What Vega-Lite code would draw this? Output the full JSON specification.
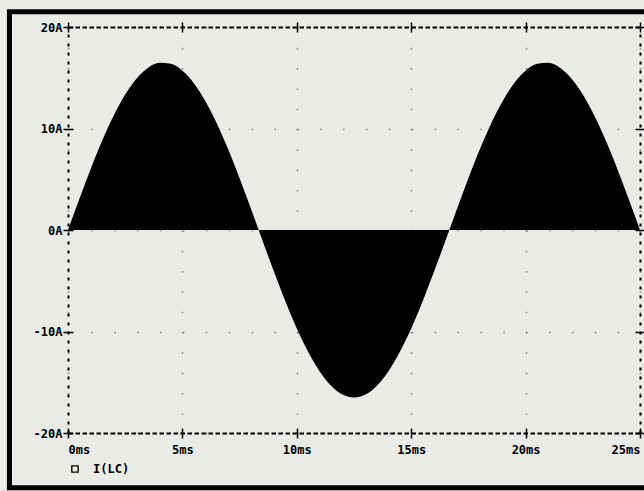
{
  "$schema": "https://vega.github.io/schema/vega-lite/v6.json",
  "width": 572,
  "height": 406,
  "autosize": {"type": "none"},
  "padding": {"left": 68, "top": 27, "right": 4, "bottom": 58},
  "background": "#e8ebe6",
  "config": {
    "view": {"stroke": null},
    "axis": {
      "labelFont": "DejaVu Sans Mono",
      "labelFontWeight": "bold",
      "labelFontSize": 12,
      "labelColor": "black",
      "domainColor": "black",
      "tickColor": "black",
      "title": null
    }
  },
  "datasets": {
    "wave": [
      {"t": 0, "i": 0, "s": "I(LC)"},
      {"t": 0.5, "i": 3.09, "s": "I(LC)"},
      {"t": 1, "i": 6.07, "s": "I(LC)"},
      {"t": 1.5, "i": 8.84, "s": "I(LC)"},
      {"t": 2, "i": 11.29, "s": "I(LC)"},
      {"t": 2.5, "i": 13.35, "s": "I(LC)"},
      {"t": 3, "i": 14.93, "s": "I(LC)"},
      {"t": 3.5, "i": 15.98, "s": "I(LC)"},
      {"t": 4, "i": 16.47, "s": "I(LC)"},
      {"t": 4.5, "i": 16.37, "s": "I(LC)"},
      {"t": 5, "i": 15.69, "s": "I(LC)"},
      {"t": 5.5, "i": 14.46, "s": "I(LC)"},
      {"t": 6, "i": 12.71, "s": "I(LC)"},
      {"t": 6.5, "i": 10.52, "s": "I(LC)"},
      {"t": 7, "i": 7.95, "s": "I(LC)"},
      {"t": 7.5, "i": 5.10, "s": "I(LC)"},
      {"t": 8, "i": 2.07, "s": "I(LC)"},
      {"t": 8.333, "i": 0, "s": "I(LC)"},
      {"t": 8.5, "i": -1.04, "s": "I(LC)"},
      {"t": 9, "i": -4.10, "s": "I(LC)"},
      {"t": 9.5, "i": -7.03, "s": "I(LC)"},
      {"t": 10, "i": -9.70, "s": "I(LC)"},
      {"t": 10.5, "i": -12.03, "s": "I(LC)"},
      {"t": 11, "i": -13.93, "s": "I(LC)"},
      {"t": 11.5, "i": -15.34, "s": "I(LC)"},
      {"t": 12, "i": -16.21, "s": "I(LC)"},
      {"t": 12.5, "i": -16.5, "s": "I(LC)"},
      {"t": 13, "i": -16.21, "s": "I(LC)"},
      {"t": 13.5, "i": -15.34, "s": "I(LC)"},
      {"t": 14, "i": -13.93, "s": "I(LC)"},
      {"t": 14.5, "i": -12.03, "s": "I(LC)"},
      {"t": 15, "i": -9.70, "s": "I(LC)"},
      {"t": 15.5, "i": -7.03, "s": "I(LC)"},
      {"t": 16, "i": -4.10, "s": "I(LC)"},
      {"t": 16.5, "i": -1.04, "s": "I(LC)"},
      {"t": 16.667, "i": 0, "s": "I(LC)"},
      {"t": 17, "i": 2.07, "s": "I(LC)"},
      {"t": 17.5, "i": 5.10, "s": "I(LC)"},
      {"t": 18, "i": 7.95, "s": "I(LC)"},
      {"t": 18.5, "i": 10.52, "s": "I(LC)"},
      {"t": 19, "i": 12.71, "s": "I(LC)"},
      {"t": 19.5, "i": 14.46, "s": "I(LC)"},
      {"t": 20, "i": 15.69, "s": "I(LC)"},
      {"t": 20.5, "i": 16.37, "s": "I(LC)"},
      {"t": 21, "i": 16.47, "s": "I(LC)"},
      {"t": 21.5, "i": 15.98, "s": "I(LC)"},
      {"t": 22, "i": 14.93, "s": "I(LC)"},
      {"t": 22.5, "i": 13.35, "s": "I(LC)"},
      {"t": 23, "i": 11.29, "s": "I(LC)"},
      {"t": 23.5, "i": 8.84, "s": "I(LC)"},
      {"t": 24, "i": 6.07, "s": "I(LC)"},
      {"t": 24.5, "i": 3.09, "s": "I(LC)"},
      {"t": 25, "i": 0, "s": "I(LC)"}
    ],
    "frame": [{"x1": -2.56, "x2": 28, "y1": 21.5, "y2": -25.4}]
  },
  "resolve": {"axis": {"x": "independent", "y": "independent"}},
  "layer": [
    {
      "data": {"name": "frame"},
      "mark": {"type": "rect", "filled": false, "stroke": "black", "strokeWidth": 5, "clip": false},
      "encoding": {
        "x": {"field": "x1", "type": "quantitative", "scale": {"domain": [0, 25], "nice": false, "zero": false},
              "axis": {"orient": "bottom", "values": [0, 5, 10, 15, 20, 25], "labels": false, "domain": false, "grid": false, "tickSize": -5, "tickWidth": 1.5}},
        "x2": {"field": "x2"},
        "y": {"field": "y1", "type": "quantitative", "scale": {"domain": [-20, 20], "nice": false, "zero": false},
              "axis": {"orient": "left", "values": [-20, -10, 0, 10, 20], "labels": false, "domain": false, "grid": false, "tickSize": -5, "tickWidth": 1.5}},
        "y2": {"field": "y2"}
      }
    },
    {
      "data": {"name": "wave"},
      "mark": {"type": "area", "interpolate": "monotone"},
      "encoding": {
        "x": {"field": "t", "type": "quantitative",
              "axis": {"orient": "bottom", "values": [0, 5, 10, 15, 20, 25], "labelExpr": "datum.value + 'ms'",
                       "domainDash": [4.5, 2.5], "domainWidth": 2, "tickSize": 5, "tickWidth": 1.5, "labelPadding": 6,
                       "grid": true, "gridDash": [1.6, 18.7], "gridColor": "#333", "gridWidth": 1.6, "gridOpacity": 0.5}},
        "y": {"field": "i", "type": "quantitative",
              "axis": {"orient": "left", "values": [-20, -10, 0, 10, 20], "labelExpr": "datum.value + 'A'",
                       "domainDash": [3, 6], "domainWidth": 2, "tickSize": 5, "tickWidth": 1.5, "labelPadding": 1,
                       "grid": true, "gridDash": [1.6, 21.28], "gridColor": "#333", "gridWidth": 1.6, "gridOpacity": 0.5}},
        "y2": {"datum": 0},
        "color": {"field": "s", "type": "nominal", "scale": {"range": ["black"]},
                  "legend": {"orient": "none", "legendX": 1, "legendY": 436, "title": null,
                             "symbolType": "M-1,-1H1V1H-1Z M-0.65,-0.65V0.65H0.65V-0.65Z",
                             "symbolSize": 60, "symbolStrokeWidth": 0, "symbolOpacity": 1,
                             "labelFont": "DejaVu Sans Mono", "labelFontWeight": "bold",
                             "labelFontSize": 12, "labelColor": "black", "labelOffset": 12}}
      }
    },
    {
      "data": {"name": "wave"},
      "mark": {"type": "point", "opacity": 0},
      "encoding": {
        "x": {"field": "t", "type": "quantitative",
              "axis": {"orient": "top", "values": [0, 5, 10, 15, 20, 25], "labels": false, "grid": false,
                       "domainDash": [4.5, 2.5], "domainWidth": 2, "tickSize": 5, "tickWidth": 1.5}},
        "y": {"field": "i", "type": "quantitative",
              "axis": {"orient": "right", "values": [-20, -10, 0, 10, 20], "labels": false, "grid": false,
                       "domainDash": [3, 6], "domainWidth": 2, "tickSize": 5, "tickWidth": 1.5}}
      }
    },
    {
      "data": {"name": "wave"},
      "mark": {"type": "point", "opacity": 0},
      "encoding": {
        "x": {"field": "t", "type": "quantitative",
              "axis": {"orient": "top", "values": [0, 5, 10, 15, 20, 25], "labels": false, "grid": false, "domain": false,
                       "tickSize": -5, "tickWidth": 1.5}},
        "y": {"field": "i", "type": "quantitative",
              "axis": {"orient": "right", "values": [-20, -10, 0, 10, 20], "labels": false, "grid": false, "domain": false,
                       "tickSize": -5, "tickWidth": 1.5}}
      }
    }
  ]
}
